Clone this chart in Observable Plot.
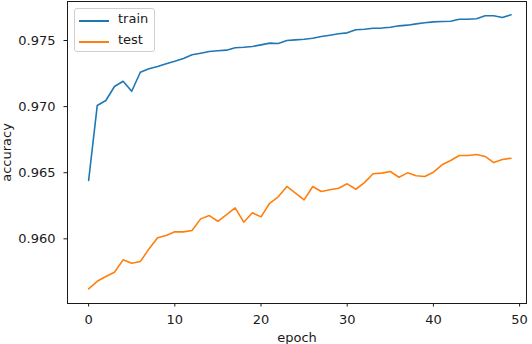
<!DOCTYPE html>
<html>
<head>
<meta charset="utf-8">
<script src="https://cdn.jsdelivr.net/npm/d3@7"></script>
<script src="https://cdn.jsdelivr.net/npm/@observablehq/plot@0.6"></script>
<style>
  html, body { margin: 0; padding: 0; background: #fff; }
  #wrap { position: relative; width: 532px; height: 344px; font-family: "DejaVu Sans", sans-serif; }
  #legend { position: absolute; left: 74px; top: 8px; width: 81px; height: 44px; box-sizing: border-box;
            border: 1px solid #d0d0d0; border-radius: 3px; background: rgba(255,255,255,0.8); }
  .lg-row { position: absolute; left: 0; height: 14px; }
  .lg-line { position: absolute; left: 4px; width: 30px; height: 2px; top: 6px; }
  .lg-text { position: absolute; left: 43px; top: -3px; font-size: 13px; color: #1a1a1a; white-space: nowrap; }
</style>
</head>
<body>
<div id="wrap"><div id="chart"></div><div id="legend"></div></div>
<script>
const epochs = d3.range(50);
const seriesNames = ["train", "test"];
const seriesColors = ["#1f77b4", "#ff7f0e"];
const train = [
  0.96441, 0.97008, 0.97046, 0.97152, 0.97192, 0.97116, 0.97260, 0.97286, 0.97303, 0.97324,
  0.97343, 0.97364, 0.97392, 0.97404, 0.97417, 0.97422, 0.97427, 0.97445, 0.97449, 0.97455,
  0.97467, 0.97480, 0.97477, 0.97500, 0.97505, 0.97510, 0.97517, 0.97530, 0.97540, 0.97551,
  0.97558, 0.97581, 0.97585, 0.97593, 0.97594, 0.97600, 0.97611, 0.97616, 0.97626, 0.97634,
  0.97641, 0.97644, 0.97646, 0.97661, 0.97661, 0.97664, 0.97687, 0.97687, 0.97674, 0.97694
];
const test = [
  0.95622, 0.95679, 0.95715, 0.95747, 0.95841, 0.95815, 0.95828, 0.95924, 0.96008, 0.96025,
  0.96053, 0.96053, 0.96063, 0.96151, 0.96176, 0.96133, 0.96184, 0.96234, 0.96126, 0.96197,
  0.96166, 0.96269, 0.96318, 0.96396, 0.96345, 0.96295, 0.96396, 0.96358, 0.96371, 0.96383,
  0.96416, 0.96375, 0.96425, 0.96492, 0.96497, 0.96509, 0.96466, 0.96499, 0.96477, 0.96471,
  0.96504, 0.96560, 0.96592, 0.96630, 0.96630, 0.96638, 0.96623, 0.96577, 0.96600, 0.96610
];
const xTicks = [0, 10, 20, 30, 40, 50];
const yTicks = [0.960, 0.965, 0.970, 0.975];

const rows = [];
[train, test].forEach((vals, s) => vals.forEach((v, i) => rows.push({epoch: epochs[i], acc: v, series: seriesNames[s]})));

const chart = Plot.plot({
  width: 532,
  height: 344,
  marginLeft: 67,
  marginRight: 6,
  marginTop: 1,
  marginBottom: 41,
  style: {fontFamily: "DejaVu Sans, sans-serif", fontSize: "13px", color: "#1a1a1a", background: "white"},
  x: {domain: [-2.45, 50.8]},
  y: {domain: [0.95511, 0.97795]},
  color: {domain: seriesNames, range: seriesColors},
  marks: [
    Plot.line(rows, {x: "epoch", y: "acc", z: "series", stroke: "series", strokeWidth: 1.6}),
    Plot.frame({stroke: "#1a1a1a", strokeWidth: 1}),
    Plot.axisX({ticks: xTicks, tickSize: 3.5, tickPadding: 8, label: "epoch", labelAnchor: "center", labelOffset: 38, labelArrow: "none", stroke: "#1a1a1a"}),
    Plot.axisY({ticks: yTicks, tickFormat: d3.format(".3f"), tickSize: 3.5, tickPadding: 8.5, label: "accuracy", labelAnchor: "center", labelOffset: 66, labelArrow: "none", stroke: "#1a1a1a"})
  ]
});
document.getElementById("chart").appendChild(chart);

const legend = document.getElementById("legend");
seriesNames.forEach((name, i) => {
  const row = document.createElement("div");
  row.className = "lg-row";
  row.style.top = (5 + i * 21) + "px";
  const line = document.createElement("div");
  line.className = "lg-line";
  line.style.background = seriesColors[i];
  const txt = document.createElement("div");
  txt.className = "lg-text";
  txt.textContent = name;
  row.appendChild(line);
  row.appendChild(txt);
  legend.appendChild(row);
});
</script>
</body>
</html>
